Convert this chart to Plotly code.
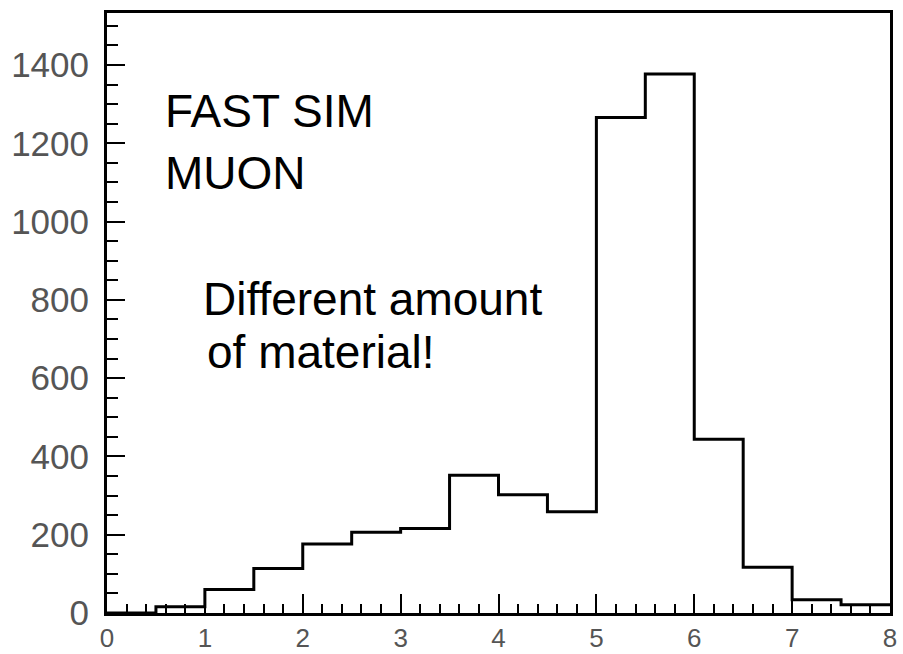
import plotly.graph_objects as go

# Histogram contents: 16 bins of width 0.5 from 0 to 8
bin_edges = [0.0, 0.5, 1.0, 1.5, 2.0, 2.5, 3.0, 3.5, 4.0, 4.5, 5.0, 5.5, 6.0, 6.5, 7.0, 7.5, 8.0]
counts = [0, 16, 60, 114, 176, 206, 216, 352, 302, 259, 1266, 1377, 444, 117, 34, 21]

x_tick_vals = [0, 1, 2, 3, 4, 5, 6, 7, 8]
y_tick_vals = [0, 200, 400, 600, 800, 1000, 1200, 1400]

# step outline: each count is held until the next edge
step_x = bin_edges
step_y = counts + [counts[-1]]

fig = go.Figure()
fig.add_trace(go.Scatter(
    x=step_x, y=step_y, mode="lines",
    line=dict(color="black", width=3, shape="hv"),
    hoverinfo="skip", showlegend=False,
))

y_tick_font = dict(family="Liberation Sans, Arial, sans-serif", size=35, color="#555555")
x_tick_font = dict(family="Liberation Sans, Arial, sans-serif", size=26, color="#555555")

fig.update_xaxes(
    range=[0, 8], tickvals=x_tick_vals, ticks="inside", ticklen=19, tickwidth=2,
    tickcolor="black", showline=True, linewidth=3, linecolor="black", mirror=True,
    showgrid=False, zeroline=False, tickfont=x_tick_font, ticklabelstandoff=0,
    automargin=False,
    minor=dict(ticks="inside", ticklen=9, tickwidth=2, tickcolor="black", dtick=0.2, showgrid=False),
)
fig.update_yaxes(
    range=[0, 1533], tickvals=y_tick_vals, ticks="inside", ticklen=18, tickwidth=2,
    tickcolor="black", showline=True, linewidth=3, linecolor="black", mirror=True,
    showgrid=False, zeroline=False, tickfont=y_tick_font, ticklabelstandoff=8,
    automargin=False,
    minor=dict(ticks="inside", ticklen=11, tickwidth=2, tickcolor="black", dtick=50, showgrid=False),
)

label_font = dict(family="Liberation Sans, Arial, sans-serif", size=46, color="black")
notes = [
    ("FAST SIM", 163, 112),
    ("MUON", 163, 174),
    ("Different amount", 201, 300),
    ("of material!", 205, 353),
]
for text, px, py in notes:
    fig.add_annotation(
        text=text, xref="paper", yref="paper",
        x=(px - 107) / 783, y=(614 - py) / 600,
        xanchor="left", yanchor="middle", showarrow=False, font=label_font,
    )

fig.update_layout(
    width=903, height=654,
    margin=dict(l=107, r=13, t=13, b=41),
    paper_bgcolor="white", plot_bgcolor="white",
)

fig.write_html("out.html")
